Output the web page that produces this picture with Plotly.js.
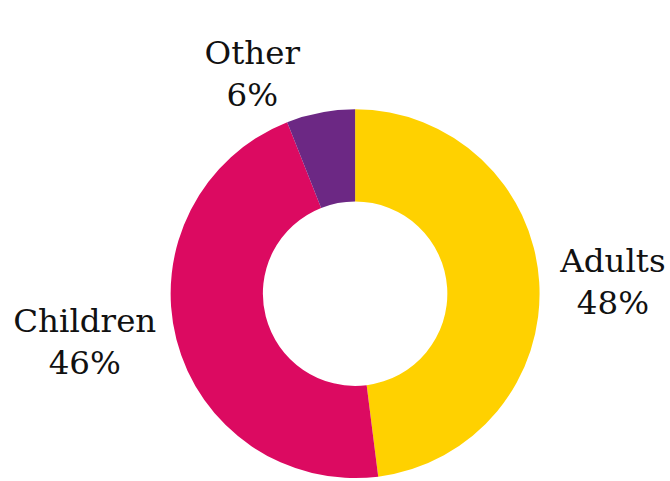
<!DOCTYPE html>
<html>
<head>
<meta charset="utf-8">
<script src="https://cdn.plot.ly/plotly-3.0.1.min.js"></script>
<style>html,body{margin:0;padding:0;background:#fff;}#chart{width:670px;height:481px;}</style>
</head>
<body>
<div id="chart"></div>
<script>
const categories = ["Adults", "Children", "Other"];
const shares = [48, 46, 6];
const colors = ["#FFD100", "#DC0A61", "#6C2884"];

const trace = {
  type: "pie",
  labels: categories,
  values: shares,
  hole: 0.5,
  sort: false,
  direction: "clockwise",
  rotation: 0,
  marker: {colors: colors, line: {width: 0}},
  textinfo: "label+percent",
  textposition: "outside",
  texttemplate: "%{label}<br>%{percent:.0%}",
  outsidetextfont: {family: "DejaVu Serif", size: 32.5, color: "#111"},
  showlegend: false,
  domain: {x: [0.254, 0.806], y: [0.006, 0.773]}
};

const layout = {
  width: 670, height: 481,
  margin: {l: 0, r: 0, t: 0, b: 0},
  paper_bgcolor: "#fff",
  font: {family: "DejaVu Serif", color: "#111"},
  showlegend: false
};

Plotly.newPlot("chart", [trace], layout, {displayModeBar: false, staticPlot: true});
</script>
</body>
</html>
